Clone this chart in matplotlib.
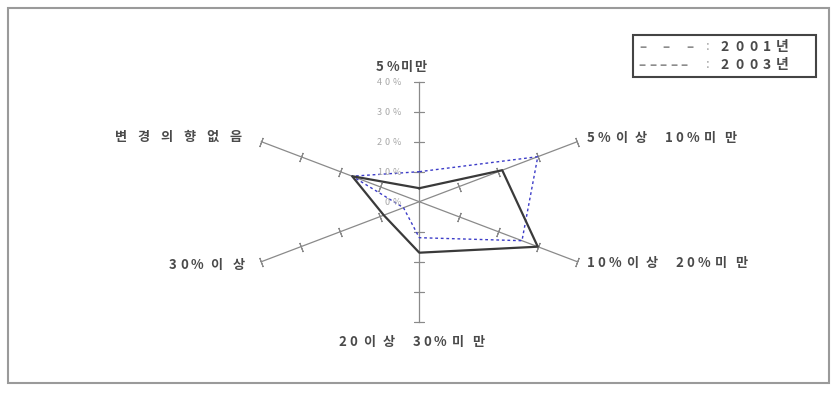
import numpy as np
import matplotlib
matplotlib.use('Agg')
import matplotlib.pyplot as plt
import matplotlib.transforms as mtransforms
from matplotlib.patches import Rectangle

plt.rcParams['font.family'] = ['Noto Sans CJK KR', 'DejaVu Sans']

# categories clockwise from the top
categories = ['5%미만', '5%이상 10%미만', '10%이상 20%미만',
              '20이상 30%미만', '30%이상', '변경의향없음']
values_2001 = [4.5, 21, 30, 17, 9, 17]
values_2003 = [10, 30, 26, 12, 4, 17]
ring_ticks = [0, 10, 20, 30, 40]
ring_labels = ['0%', '10%', '20%', '30%', '40%']
series_names = ['2001년', '2003년']

W, H = 837, 394
fig = plt.figure(figsize=(W / 100, H / 100), dpi=100)
ax = fig.add_axes([0, 0, 1, 1])
ax.axis('off')

# the original chart is stretched sideways: pixels per percent
sx, sy = 4.56, 3.0
cx, cy = 419.3, 201.7
ax.set_xlim(-cx / sx, (W - cx) / sx)
ax.set_ylim(-(H - cy) / sy, cy / sy)

n = len(categories)
angles = np.deg2rad(90 - 60 * np.arange(n))
rmax = ring_ticks[-1]
pix = mtransforms.IdentityTransform()


def char_w(c, hw, dw):
    if c.isdigit():
        return dw
    if c == '%':
        return dw * 1.35
    if c == ' ':
        return 12
    if c == ':':
        return 8
    if c == '–':
        return dw
    return hw


def spaced_text(x, y, s, ha='left', size=9.5, color='#4a4a4a', hw=21, dw=11,
                weight='bold'):
    # old chart font is letter-spaced, so place each glyph in its own cell
    widths = [char_w(c, hw, dw) for c in s]
    total = sum(widths)
    if ha == 'center':
        x = x - total / 2
    elif ha == 'right':
        x = x - total
    for c, w in zip(s, widths):
        if c != ' ':
            fig.text(x + w / 2, y, c, transform=pix, ha='center', va='center',
                     fontsize=size, color=color, fontweight=weight)
        x += w


# spokes, tick marks
for a in angles:
    ax.plot([0, rmax * np.cos(a)], [0, rmax * np.sin(a)], color='#8a8a8a', lw=0.9, zorder=1)
    pix_ang = np.degrees(np.arctan2(np.sin(a) * sy, np.cos(a) * sx))
    r = np.array(ring_ticks[1:])
    ax.plot(r * np.cos(a), r * np.sin(a), ls='none', marker=(2, 2, pix_ang),
            ms=7, mew=0.8, color='#8a8a8a', zorder=1)

# ring labels on the top spoke
for r, lab in zip(ring_ticks, ring_labels):
    px, py = ax.transData.transform((0, r))
    spaced_text(px - 17, py - 1, lab, ha='right', size=6.5, color='#a8a8a8',
                dw=8, weight='normal')

# category labels (offsets in pixels from the spoke ends, y up)
offsets = [(-19, 15, 'center', 13), (8, 4, 'left', 20), (8, -1, 'left', 20),
           (-7, -20, 'center', 20), (-11, -3, 'right', 23), (-14, 5, 'right', 23)]
for a, cat, (dx, dy, ha, hw) in zip(angles, categories, offsets):
    px, py = ax.transData.transform((rmax * np.cos(a), rmax * np.sin(a)))
    spaced_text(px + dx, py + dy, cat, ha=ha, hw=hw)


# series
def closed(vals):
    v = np.array(vals + vals[:1])
    a = np.append(angles, angles[0])
    return v * np.cos(a), v * np.sin(a)


x1, y1 = closed(values_2003)
ax.plot(x1, y1, color='#3c3cc8', lw=1.0, ls=(0, (2, 2)), zorder=3)
x0, y0 = closed(values_2001)
ax.plot(x0, y0, color='#3a3a3a', lw=1.6, zorder=4)

# outer frame
fig.patches.append(Rectangle((8 / W, 1 - 383 / H), 821 / W, 375 / H,
                             transform=fig.transFigure, fill=False,
                             edgecolor='#9a9a9a', lw=1.5))

# legend box
fig.patches.append(Rectangle((633 / W, 1 - 77 / H), 183 / W, 42 / H,
                             transform=fig.transFigure, fill=False,
                             edgecolor='#444444', lw=1.5))
spaced_text(637, H - 47, '– – –', color='#8c8c8c', dw=11.5)
spaced_text(637, H - 65, '–––––', color='#8c8c8c', dw=10.5)
for i, name in enumerate(series_names):
    yy = H - 47 - 18 * i
    spaced_text(704, yy, ':', color='#a0a0a0', weight='normal')
    spaced_text(718, yy, name, size=10, color='#4a4a4a', dw=14, hw=16)

fig.savefig('out.png', dpi=100, facecolor='white')
